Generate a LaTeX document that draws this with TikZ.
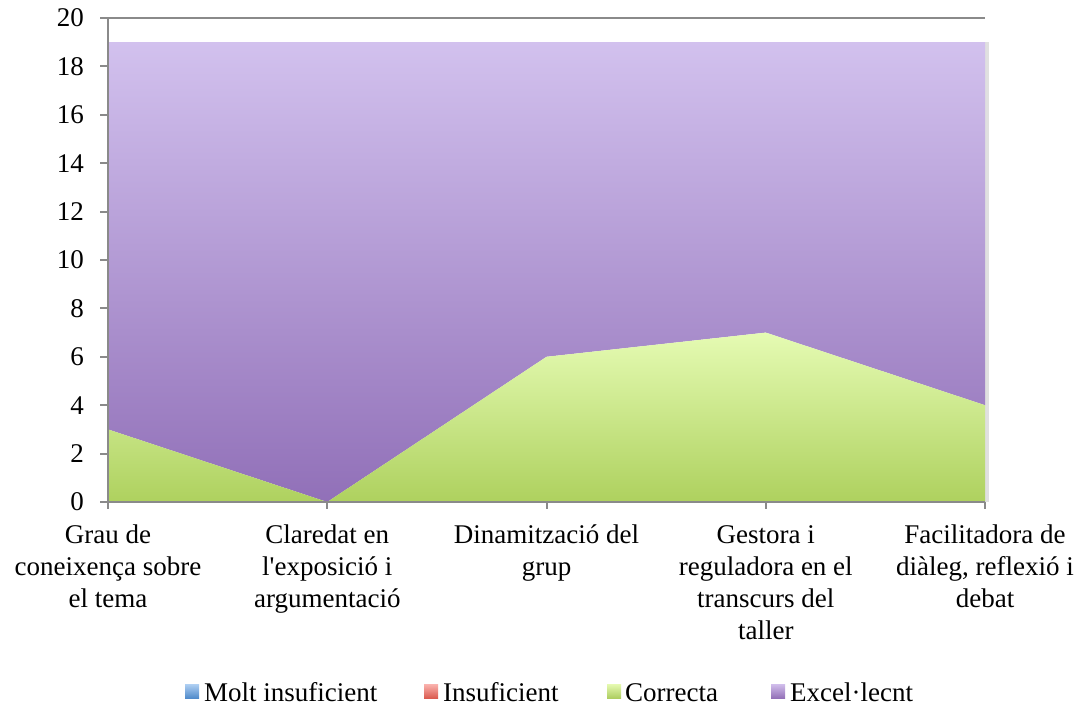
\documentclass[tikz,border=0pt]{standalone}
\usepackage{fontspec}
\setmainfont{Liberation Serif}
\definecolor{axisgray}{HTML}{8A8A8A}
\definecolor{purpTop}{HTML}{D2C1EE}
\definecolor{purpBot}{HTML}{9170B8}
\definecolor{greenTop}{HTML}{E5FBB3}
\definecolor{greenBot}{HTML}{AED15E}
\definecolor{blueTop}{HTML}{A9CBF0}
\definecolor{blueBot}{HTML}{4A86C8}
\definecolor{redTop}{HTML}{F8ADA8}
\definecolor{redBot}{HTML}{D9564A}
\definecolor{lgTop}{HTML}{E2F7AC}
\definecolor{lgBot}{HTML}{AACB5C}
\definecolor{lpTop}{HTML}{CDB9E8}
\definecolor{lpBot}{HTML}{8F6CB4}
\begin{document}
\begin{tikzpicture}[x=1pt,y=1pt,
  font=\fontsize{27}{32}\selectfont,
  axisline/.style={draw=axisgray, line width=2pt},
  ticklabel/.style={anchor=east, inner sep=0pt},
  catlabel/.style={anchor=north, inner sep=0pt, align=center},
  legtext/.style={anchor=base west, inner sep=0pt},
  legmark/.style={draw=none}]
\useasboundingbox (0,0) rectangle (1082,711);

\begin{scope}[shift={(0,209)}, y=24.2pt]
  % named points of the series
  \coordinate (b1) at (108,0);
  \coordinate (b5) at (985,0);
  \coordinate (g1) at (108,3);
  \coordinate (g2) at (327.25,0);
  \coordinate (g3) at (546.5,6);
  \coordinate (g4) at (765.75,7);
  \coordinate (g5) at (985,4);
  \coordinate (p1) at (108,19);
  \coordinate (p5) at (985,19);
  \coordinate (t1) at (108,20);
  \coordinate (t0) at (100,20);
  \coordinate (t5) at (985,20);

  % shadow at right edge
  \fill[black!12] (985,0) rectangle (988.5,19);
  % Excel·lecnt area
  \shade[top color=purpTop, bottom color=purpBot]
    (p1) -- (p5) -- (g5) -- (g4) -- (g3) -- (g2) -- (g1) -- cycle;
  % Correcta area
  \shade[top color=greenTop, bottom color=greenBot]
    (b1) -- (g1) -- (g2) -- (g3) -- (g4) -- (g5) -- (b5) -- cycle;

  % axes
  \draw[axisline] (t0) -- (t5);
  \draw[axisline] (b1) -- (t1);
  \draw[axisline] (b1) -- (b5);
  \foreach \v in {0,2,...,20} {
    \draw[axisline] (100,\v) -- (108,\v);
    \node[ticklabel] (yl\v) at (84,\v) {\v};
  }
  \foreach \xx in {108,327.25,546.5,765.75,985} {
    \draw[axisline] (\xx,0) -- (\xx,-0.3);
  }
\end{scope}

% category labels
\node[catlabel] (c1) at (108,186) {Grau de\\coneixença sobre\\el tema};
\node[catlabel] (c2) at (327.25,186) {Claredat en\\l\textquotesingle exposició i\\argumentació};
\node[catlabel] (c3) at (546.5,186) {Dinamització del\\grup};
\node[catlabel] (c4) at (765.75,186) {Gestora i\\reguladora en el\\transcurs del\\taller};
\node[catlabel] (c5) at (985,186) {Facilitadora de\\diàleg, reflexió i\\debat};

% legend
\shade[legmark, top color=blueTop, bottom color=blueBot] (185,12) rectangle (199,26);
\node[legtext] (l1) at (204,9) {Molt insuficient};
\shade[legmark, top color=redTop, bottom color=redBot] (424,12) rectangle (438,26);
\node[legtext] (l2) at (443,9) {Insuficient};
\shade[legmark, top color=lgTop, bottom color=lgBot] (607,12) rectangle (621,26);
\node[legtext] (l3) at (625,9) {Correcta};
\shade[legmark, top color=lpTop, bottom color=lpBot] (771,12) rectangle (785,26);
\node[legtext] (l4) at (790,9) {Excel·lecnt};
\end{tikzpicture}
\end{document}
